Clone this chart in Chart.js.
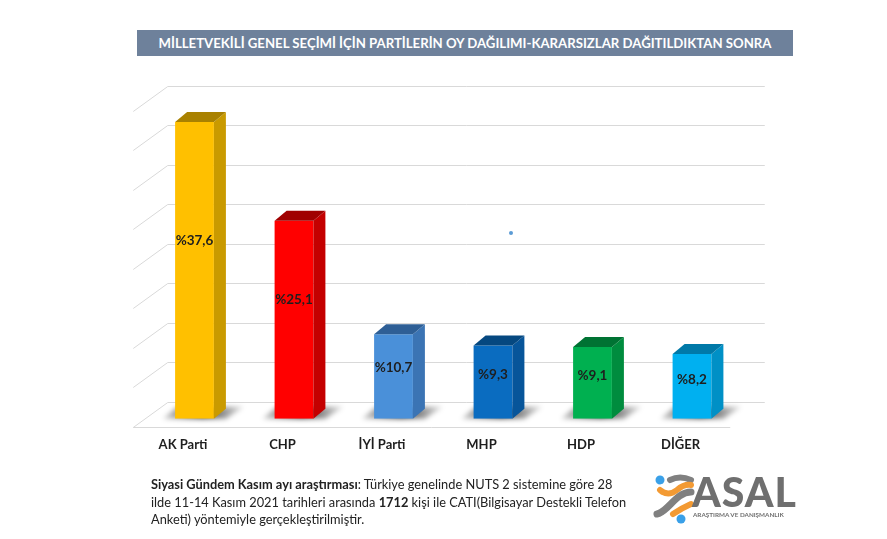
<!DOCTYPE html>
<html>
<head>
<meta charset="utf-8">
<script src="https://cdn.jsdelivr.net/npm/chart.js@4.4.1/dist/chart.umd.min.js"></script>
<style>
  body { margin: 0; background: #fff; }
  #wrap { position: relative; width: 887px; height: 539px; overflow: hidden; font-family: Lato, "Open Sans", sans-serif; }
  #chart { position: absolute; left: 0; top: 0; }
  #title { position: absolute; left: 137px; top: 30px; width: 656px; height: 26px; background: #6e819b;
    color: #fff; font-weight: bold; font-size: 13.2px; line-height: 26px; text-align: center; }
  #note { position: absolute; left: 151px; top: 476px; width: 480px; font-size: 12.8px; line-height: 17.5px; color: #222; }
  #logo { position: absolute; left: 648px; top: 470px; width: 150px; height: 60px; }
  #dot { position: absolute; left: 509px; top: 231px; width: 4px; height: 4px; border-radius: 2px; background: #5b9bd5; }
</style>
</head>
<body>
<div id="wrap">
  <canvas id="chart" width="887" height="539"></canvas>
  <div id="title">MİLLETVEKİLİ GENEL SEÇİMİ İÇİN PARTİLERİN OY DAĞILIMI-KARARSIZLAR DAĞITILDIKTAN SONRA</div>
  <div id="dot"></div>
  <div id="note"><b>Siyasi Gündem Kasım ayı araştırması</b>: Türkiye genelinde NUTS 2 sistemine göre 28 ilde 11-14 Kasım 2021 tarihleri arasında <b>1712</b> kişi ile CATI(Bilgisayar Destekli Telefon Anketi) yöntemiyle gerçekleştirilmiştir.</div>
  <svg id="logo" viewBox="0 0 150 60">
    <path d="M22 10 Q32 5 43 10" stroke="#808080" stroke-width="6" fill="none" stroke-linecap="round"/>
    <path d="M12 20 Q20 27 29 20 Q36 14 43 15" stroke="#f39a33" stroke-width="6" fill="none" stroke-linecap="round"/>
    <path d="M9 44 C20 42, 28 22, 43 22" stroke="#808080" stroke-width="7" fill="none" stroke-linecap="round"/>
    <path d="M25 44 Q34 38 43 34" stroke="#f39a33" stroke-width="6" fill="none" stroke-linecap="round"/>
    <circle cx="12" cy="10" r="4.5" fill="#3aa0e8"/>
    <circle cx="33" cy="49" r="4.5" fill="#3aa0e8"/>
    <text x="44" y="37" font-family="Lato, sans-serif" font-weight="900" font-size="41" fill="#6f6f6f" letter-spacing="1">ASAL</text>
    <text x="45" y="47" font-family="Lato, sans-serif" font-weight="bold" font-size="6.3" fill="#6f6f6f">ARAŞTIRMA VE DANIŞMANLIK</text>
  </svg>
</div>
<script>
const categories = ['AK Parti', 'CHP', 'İYİ Parti', 'MHP', 'HDP', 'DİĞER'];
const shares = [37.6, 25.1, 10.7, 9.3, 9.1, 8.2];
const yMax = 40;
const yStep = 5;
const faceColors = ['#FFC000', '#FF0000', '#4A90D9', '#0A6CC0', '#00B050', '#00B0F0'];
const sideColors = ['#C99A00', '#C40000', '#3B74B4', '#07559A', '#008C3E', '#0090C6'];
const topColors = ['#A98100', '#A00000', '#2E5F96', '#054880', '#007333', '#0079A8'];

// oblique offsets for the fake 3d look
const wall = { dx: 23, dy: -17 };
const front = { dx: -11.5, dy: 8 };
const depth = { dx: 12, dy: -10 };

const fmt = v => '%' + String(v).replace('.', ',');

const threeD = {
  id: 'threeD',
  beforeDatasetsDraw(chart) {
    const { ctx, chartArea: a, scales: { y } } = chart;
    ctx.save();
    ctx.strokeStyle = '#d9d9d9';
    ctx.lineWidth = 1;
    for (let v = 0; v <= yMax; v += yStep) {
      const py = Math.round(y.getPixelForValue(v)) + 0.5;
      ctx.beginPath();
      ctx.moveTo(a.left + front.dx, py + front.dy);
      ctx.lineTo(a.left + wall.dx, py + wall.dy);
      ctx.lineTo(a.right + wall.dx, py + wall.dy);
      ctx.stroke();
    }
    const base = Math.round(y.getPixelForValue(0)) + 0.5;
    ctx.beginPath();
    ctx.moveTo(a.left + front.dx, base + front.dy);
    ctx.lineTo(a.right + front.dx, base + front.dy);
    ctx.stroke();

    // floor shadows
    const meta = chart.getDatasetMeta(0);
    ctx.filter = 'blur(2.5px)';
    meta.data.forEach(bar => {
      const l = bar.x - bar.width / 2, r = bar.x + bar.width / 2, b = bar.base;
      const g = ctx.createLinearGradient(l - 14, 0, r + 30, 0);
      g.addColorStop(0, 'rgba(0,0,0,0.15)');
      g.addColorStop(0.5, 'rgba(0,0,0,0.75)');
      g.addColorStop(1, 'rgba(0,0,0,0.1)');
      ctx.fillStyle = g;
      ctx.beginPath();
      ctx.moveTo(l - 12, b);
      ctx.lineTo(r + 12, b);
      ctx.lineTo(r + 30, b - 12);
      ctx.lineTo(l + 2, b - 12);
      ctx.closePath();
      ctx.fill();
    });
    ctx.restore();
  },
  afterDatasetsDraw(chart) {
    const { ctx } = chart;
    const meta = chart.getDatasetMeta(0);
    ctx.save();
    meta.data.forEach((bar, i) => {
      const l = bar.x - bar.width / 2, r = bar.x + bar.width / 2, t = bar.y, b = bar.base;
      ctx.fillStyle = sideColors[i];
      ctx.beginPath();
      ctx.moveTo(r, t);
      ctx.lineTo(r + depth.dx, t + depth.dy);
      ctx.lineTo(r + depth.dx, b + depth.dy);
      ctx.lineTo(r, b);
      ctx.closePath();
      ctx.fill();
      ctx.fillStyle = topColors[i];
      ctx.beginPath();
      ctx.moveTo(l, t);
      ctx.lineTo(l + depth.dx, t + depth.dy);
      ctx.lineTo(r + depth.dx, t + depth.dy);
      ctx.lineTo(r, t);
      ctx.closePath();
      ctx.fill();
      ctx.fillStyle = '#1e1e1e';
      ctx.font = 'bold 13.5px Lato, sans-serif';
      ctx.textAlign = 'center';
      ctx.textBaseline = 'middle';
      ctx.fillText(fmt(shares[i]), bar.x, b - 0.6 * (b - t));
    });
    ctx.restore();
  }
};

new Chart(document.getElementById('chart'), {
  type: 'bar',
  data: {
    labels: categories,
    datasets: [{
      data: shares,
      backgroundColor: faceColors,
      borderWidth: 0,
      categoryPercentage: 1,
      barPercentage: 0.39
    }]
  },
  options: {
    responsive: false,
    animation: false,
    layout: { padding: { left: 144.75, right: 145.25, top: 103, bottom: 68.6 } },
    plugins: { legend: { display: false }, tooltip: { enabled: false } },
    scales: {
      x: {
        grid: { display: false, drawTicks: false },
        border: { display: false },
        ticks: { color: '#1e1e1e', font: { family: 'Lato', weight: 'bold', size: 13 }, padding: 18, labelOffset: -11.5 }
      },
      y: { display: false, min: 0, max: yMax, ticks: { stepSize: yStep } }
    }
  },
  plugins: [threeD]
});
</script>
</body>
</html>
